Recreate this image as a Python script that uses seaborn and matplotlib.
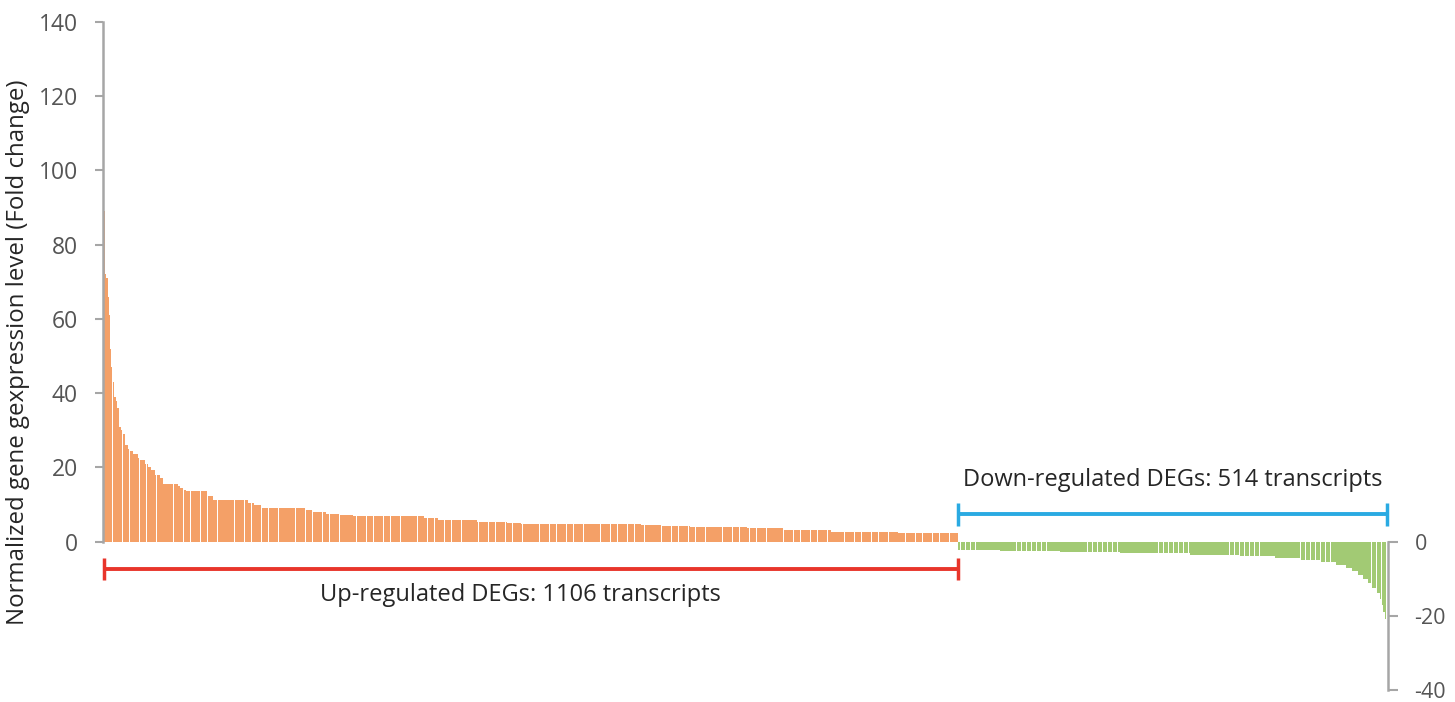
import numpy as np
import pandas as pd
import matplotlib
matplotlib.use("Agg")
import matplotlib.pyplot as plt
import seaborn as sns

# ---- data (fold-change profile, as value/run-length) ----
up_levels = [89, 72, 71, 66, 61, 52, 47, 45, 43, 39, 38, 36, 32, 31, 30, 29, 26, 25,
             24.5, 23.5, 22.4, 22, 21, 20, 19.4, 18, 17, 15.6, 15, 14.4, 14, 13.5,
             12.2, 11.3, 10.4, 9.9, 9.0, 8.6, 7.9, 7.5, 7.2, 6.8, 6.3, 5.9, 5.7, 5.4,
             5.05, 4.8, 4.7, 4.5, 4.2, 4.05, 3.6, 3.2, 2.7, 2.25]
up_counts = [1, 2, 2, 2, 1, 1, 2, 1, 1, 2, 2, 2, 1, 2, 2, 3, 4, 2,
             5, 6, 2, 7, 4, 4, 5, 6, 4, 20, 2, 6, 2, 29,
             6, 45, 8, 10, 58, 8, 18, 18, 17, 92, 17, 17, 34, 39,
             18, 26, 129, 28, 36, 74, 47, 61, 87, 78]

down_levels = [-2.3, -2.6, -2.9, -3.2, -3.5, -3.9, -4.4, -5.0, -5.6, -6.3, -7.0, -8.0,
               -9.0, -10.0, -11.3, -12.5, -13.8, -15.5, -17.0, -19.0, -21.0, -23.0, -24.5]
down_counts = [50, 72, 72, 84, 60, 42, 30, 24, 18, 12, 8, 7,
               6, 6, 5, 5, 4, 2, 2, 2, 1, 1, 1]

left_ticks = [0, 20, 40, 60, 80, 100, 120, 140]
right_ticks = [0, -20, -40]
y_label = "Normalized gene gexpression level (Fold change)"
up_text = "Up-regulated DEGs: 1106 transcripts"
down_text = "Down-regulated DEGs: 514 transcripts"

up_vals = np.repeat(up_levels, up_counts)
down_vals = np.repeat(down_levels, down_counts)
up_df = pd.DataFrame({"idx": np.arange(len(up_vals)), "fc": up_vals})
down_df = pd.DataFrame({"idx": np.arange(len(down_vals)), "fc": down_vals})

# ---- styling ----
sns.set_theme(style="white")
plt.rcParams["font.family"] = ["Open Sans", "DejaVu Sans"]
orange = "#F4A067"
green = "#A2CA74"
axis_grey = "#A6A6A6"
tick_text = "#555555"
text_col = "#262626"
W, H = 1455, 702
fig = plt.figure(figsize=(W / 100, H / 100), dpi=100)

ymin, ymax = -40, 140
top_px, bot_px = 22, 690
ax_bottom = (H - bot_px) / H
ax_height = (bot_px - top_px) / H

ax1 = fig.add_axes([103 / W, ax_bottom, (958 - 103) / W, ax_height])
ax2 = fig.add_axes([958 / W, ax_bottom, (1388 - 958) / W, ax_height])

sns.barplot(data=up_df, x="idx", y="fc", native_scale=True, color=orange,
            saturation=1, width=0.9, linewidth=0, errorbar=None, ax=ax1)
sns.barplot(data=down_df, x="idx", y="fc", native_scale=True, color=green,
            saturation=1, width=0.9, linewidth=0, errorbar=None, ax=ax2)

n_up, n_dn = len(up_vals), len(down_vals)
ax1.set_xlim(-1.8, n_up - 0.5)
ax2.set_xlim(-0.5, n_dn + 0.3)
for ax in (ax1, ax2):
    ax.set_ylim(ymin, ymax)
    ax.set_xlabel("")
    ax.set_ylabel("")
    ax.set_xticks([])
    ax.patch.set_alpha(0)
    for s in ax.spines.values():
        s.set_visible(False)

# left axis (0..140)
ax1.spines["left"].set_visible(True)
ax1.spines["left"].set_bounds(0, 140)
ax1.spines["left"].set_color(axis_grey)
ax1.spines["left"].set_linewidth(1.8)
ax1.set_yticks(left_ticks)
ax1.set_yticklabels([str(t) for t in left_ticks])
ax1.tick_params(axis="y", left=True, length=6, width=1.5, color=axis_grey,
                labelcolor=tick_text, labelsize=16.5, pad=12, direction="out")

# right axis (0..-40)
ax2.yaxis.tick_right()
ax2.spines["right"].set_visible(True)
ax2.spines["right"].set_bounds(-40, 0)
ax2.spines["right"].set_color(axis_grey)
ax2.spines["right"].set_linewidth(1.8)
ax2.set_yticks(right_ticks)
ax2.set_yticklabels([str(t) for t in right_ticks])
ax2.tick_params(axis="y", right=True, left=False, length=7, width=1.5, color=axis_grey,
                labelcolor=tick_text, labelsize=15.5, pad=12, direction="out")

fig.text(18 / W, 1 - 352 / H, y_label, rotation=90, ha="center", va="center",
         fontsize=17.3, color=text_col)

# brackets and labels
red = "#E8352B"
blue = "#2AAAE2"
y_red = -7.3
y_blue = 7.3
cap = 3.0
ax1.plot([-0.5, n_up - 0.5], [y_red, y_red], color=red, lw=2.8, clip_on=False, solid_capstyle="butt")
for xx in (-0.5, n_up - 0.5):
    ax1.plot([xx, xx], [y_red - cap, y_red + cap], color=red, lw=2.5, clip_on=False, solid_capstyle="butt")
ax1.text(0.488, -14.5, up_text, ha="center", va="center", transform=ax1.get_yaxis_transform(),
         fontsize=17, color=text_col)

ax2.plot([-0.5, n_dn - 0.5], [y_blue, y_blue], color=blue, lw=2.8, clip_on=False, solid_capstyle="butt")
for xx in (-0.5, n_dn - 0.5):
    ax2.plot([xx, xx], [y_blue - cap, y_blue + cap], color=blue, lw=2.5, clip_on=False, solid_capstyle="butt")
ax2.text((n_dn - 1) / 2, 16.5, down_text, ha="center", va="center",
         fontsize=17, color=text_col)

fig.savefig("out.png", dpi=100)
